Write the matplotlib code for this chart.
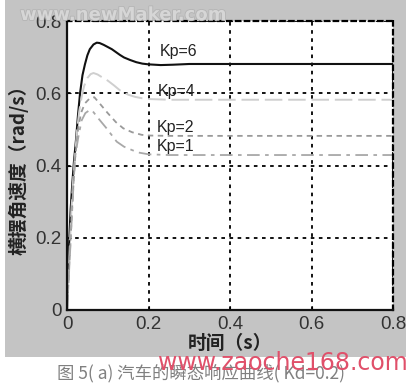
import matplotlib
matplotlib.use('Agg')
import matplotlib.pyplot as plt
import matplotlib.patheffects as pe
from matplotlib.patches import Rectangle

plt.rcParams['font.family'] = ['Liberation Sans', 'Noto Sans CJK SC', 'DejaVu Sans']

# 曲线数据
t6 = [0, 0.002, 0.005, 0.009, 0.013, 0.017, 0.022, 0.027, 0.032, 0.038, 0.044, 0.05, 0.056,
      0.065, 0.073, 0.08, 0.09, 0.10, 0.11, 0.12, 0.13, 0.14, 0.155, 0.17, 0.185, 0.2,
      0.23, 0.26, 0.3, 0.8]
y6 = [0, 0.08, 0.18, 0.28, 0.35, 0.41, 0.47, 0.54, 0.60, 0.65, 0.68, 0.705, 0.722,
      0.735, 0.740, 0.739, 0.734, 0.728, 0.722, 0.714, 0.706, 0.699, 0.692, 0.686, 0.682, 0.680,
      0.678, 0.679, 0.681, 0.681]

t4 = [0, 0.003, 0.007, 0.011, 0.015, 0.02, 0.025, 0.03, 0.036, 0.042, 0.05, 0.058, 0.065,
      0.075, 0.085, 0.10, 0.115, 0.13, 0.15, 0.167, 0.185, 0.2, 0.25, 0.8]
y4 = [0, 0.08, 0.18, 0.28, 0.36, 0.43, 0.50, 0.55, 0.59, 0.62, 0.642, 0.653, 0.656,
      0.652, 0.645, 0.635, 0.622, 0.608, 0.596, 0.590, 0.586, 0.584, 0.582, 0.582]

t2 = [0, 0.004, 0.008, 0.012, 0.016, 0.02, 0.028, 0.036, 0.044, 0.055, 0.067, 0.08,
      0.10, 0.12, 0.138, 0.16, 0.183, 0.2, 0.25, 0.8]
y2 = [0, 0.08, 0.18, 0.27, 0.35, 0.42, 0.51, 0.55, 0.572, 0.585, 0.589, 0.572,
      0.545, 0.52, 0.503, 0.492, 0.485, 0.483, 0.482, 0.482]

t1 = [0, 0.004, 0.008, 0.012, 0.016, 0.02, 0.028, 0.036, 0.045, 0.055, 0.062, 0.075,
      0.097, 0.122, 0.14, 0.159, 0.175, 0.2, 0.25, 0.8]
y1 = [0, 0.08, 0.17, 0.26, 0.35, 0.425, 0.48, 0.525, 0.545, 0.553, 0.552, 0.533,
      0.503, 0.466, 0.452, 0.443, 0.436, 0.431, 0.429, 0.429]

labels = ['Kp=6', 'Kp=4', 'Kp=2', 'Kp=1']
label_x = [0.228, 0.223, 0.221, 0.221]
label_y = [0.715, 0.604, 0.504, 0.452]

xticks = [0, 0.2, 0.4, 0.6, 0.8]
yticks = [0, 0.2, 0.4, 0.6, 0.8]

fig = plt.figure(figsize=(4.11, 3.86), dpi=100)
fig.patch.set_facecolor('white')

# 灰色背景区域
fig.patches.append(Rectangle((5 / 411, 1 - 357 / 386), 401 / 411, 357 / 386,
                             transform=fig.transFigure, facecolor='#c4c4c4',
                             edgecolor='none', zorder=-5))

ax = fig.add_axes([67 / 411, 1 - 310 / 386, 326 / 411, 289 / 386])
ax.set_facecolor('white')

ax.plot(t6, y6, color='#111111', lw=1.5)
ax.plot(t4, y4, color='#cfcfcf', lw=1.4, dashes=(9, 3))
ax.plot(t2, y2, color='#9a9a9a', lw=1.3, dashes=(3, 2.5))
ax.plot(t1, y1, color='#a8a8a8', lw=1.3, dashes=(7, 3, 2, 3))

for s, x, y in zip(labels, label_x, label_y):
    ax.text(x, y, s, fontsize=11.5, color='#222222', va='center', ha='left')

ax.set_xlim(0, 0.8)
ax.set_ylim(0, 0.8)
ax.set_xticks(xticks)
ax.set_yticks(yticks)
ax.set_xticklabels(['0', '0.2', '0.4', '0.6', '0.8'])
ax.set_yticklabels(['0', '0.2', '0.4', '0.6', '0.8'])
ax.tick_params(direction='in', length=3, labelsize=13.5, labelcolor='#333333', pad=4)

ax.grid(True, color='black', lw=1.3, linestyle=(0, (2, 2.5)))
for side in ['left', 'bottom']:
    ax.spines[side].set_linewidth(1.6)
    ax.spines[side].set_color('#111111')
for side in ['top', 'right']:
    ax.spines[side].set_linewidth(1.6)
    ax.spines[side].set_linestyle((0, (2, 2)))

ax.set_xlabel('时间（s）', fontsize=13.5, fontweight='bold', color='#222222', labelpad=1,
              family=['Noto Sans CJK SC', 'DejaVu Sans'])
ax.set_ylabel('横摆角速度（rad/s）', fontsize=13.5, fontweight='bold', color='#222222',
              labelpad=5, family=['Noto Sans CJK SC', 'DejaVu Sans'])

# 图注与水印
fig.text(0.49, 1 - 373 / 386, '图 5( a) 汽车的瞬态响应曲线( Kd=0.2)', fontsize=12.5,
         color='#808080', ha='center', va='center',
         family=['Noto Sans CJK SC', 'DejaVu Sans'])
fig.text(158 / 411, 1 - 363 / 386, 'www.zaoche168.com', fontsize=17, color='#e0506a',
         ha='left', va='center', family='DejaVu Sans')
fig.text(20 / 411, 1 - 15 / 386, 'www.newMaker.com', fontsize=13, color='#d6d6d6',
         ha='left', va='center', fontweight='bold', family='DejaVu Sans',
         path_effects=[pe.withStroke(linewidth=1.2, foreground='#b4b4b4')])

fig.savefig('out.png', dpi=100)
